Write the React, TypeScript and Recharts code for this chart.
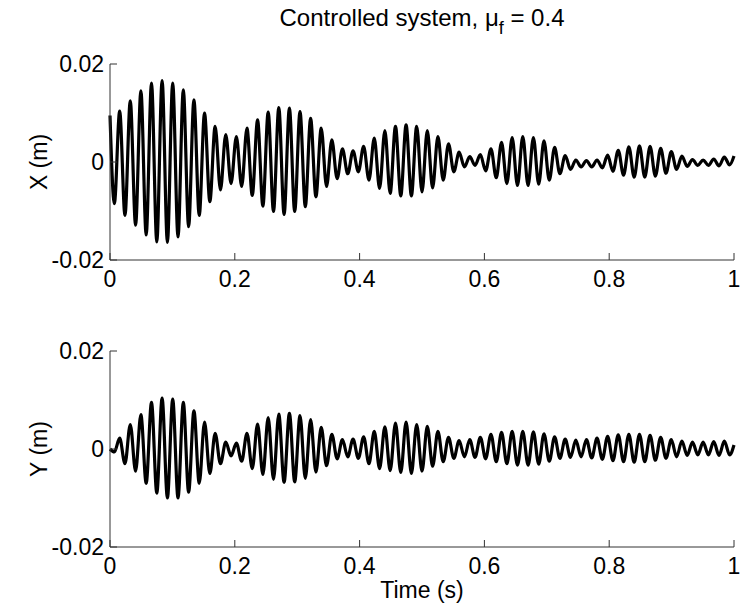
import { LineChart, Line, XAxis, YAxis } from "recharts";

// time of each turning point (s)
const times = [
  0, 0.007, 0.0155, 0.024, 0.0325, 0.041, 0.0495, 0.058, 0.0665, 0.075,
  0.0835, 0.092, 0.1005, 0.109, 0.1175, 0.126, 0.1345, 0.143, 0.1515, 0.16,
  0.1685, 0.177, 0.1855, 0.194, 0.2025, 0.211, 0.2195, 0.228, 0.2365, 0.245,
  0.2535, 0.262, 0.2705, 0.279, 0.2875, 0.296, 0.3045, 0.313, 0.3215, 0.33,
  0.3385, 0.347, 0.3555, 0.364, 0.3725, 0.381, 0.3895, 0.398, 0.4065, 0.415,
  0.4235, 0.432, 0.4405, 0.449, 0.4575, 0.466, 0.4745, 0.483, 0.4915, 0.5,
  0.5085, 0.517, 0.5255, 0.534, 0.5425, 0.551, 0.5595, 0.568, 0.5765, 0.585,
  0.5935, 0.602, 0.6105, 0.619, 0.6275, 0.636, 0.6445, 0.653, 0.6615, 0.67,
  0.6785, 0.687, 0.6955, 0.704, 0.7125, 0.721, 0.7295, 0.738, 0.7465, 0.755,
  0.7635, 0.772, 0.7805, 0.789, 0.7975, 0.806, 0.8145, 0.823, 0.8315, 0.84,
  0.8485, 0.857, 0.8655, 0.874, 0.8825, 0.891, 0.8995, 0.908, 0.9165, 0.925,
  0.9335, 0.942, 0.9505, 0.959, 0.9675, 0.976, 0.9845, 0.993, 1.0,
];

// X displacement (m)
const xDisp = [
  0.0095, -0.0085, 0.0104, -0.0109, 0.0125, -0.0129, 0.0145, -0.0149, 0.0161, -0.0163,
  0.0166, -0.0164, 0.0161, -0.0153, 0.0147, -0.0132, 0.0127, -0.0109, 0.01, -0.0081,
  0.0073, -0.0057, 0.0056, -0.0044, 0.0052, -0.005, 0.0069, -0.0068, 0.0086, -0.009,
  0.0102, -0.0101, 0.0111, -0.0107, 0.011, -0.0101, 0.0103, -0.0091, 0.0089, -0.0071,
  0.0069, -0.005, 0.0045, -0.0034, 0.0027, -0.0024, 0.0023, -0.002, 0.0032, -0.0037,
  0.0049, -0.0054, 0.0064, -0.0064, 0.0073, -0.0069, 0.0076, -0.0069, 0.0073, -0.0061,
  0.0064, -0.0053, 0.0052, -0.0037, 0.0037, -0.002, 0.002, -0.001, 0.0011, -0.0007,
  0.0015, -0.0018, 0.0027, -0.0032, 0.004, -0.0044, 0.005, -0.0048, 0.0052, -0.0048,
  0.005, -0.0045, 0.0043, -0.0037, 0.003, -0.0024, 0.0013, -0.0015, 0.0004, -0.001,
  0.0003, -0.001, 0.0004, -0.0012, 0.0014, -0.0019, 0.0024, -0.0027, 0.0031, -0.0031,
  0.0033, -0.0031, 0.0032, -0.0029, 0.0028, -0.0023, 0.0021, -0.0015, 0.0012, -0.0009,
  0.0005, -0.0007, 0.0004, -0.0007, 0.0006, -0.0008, 0.001, -0.0006, 0.0012,
];

// Y displacement (m)
const yDisp = [
  0, -0.0006, 0.0022, -0.003, 0.005, -0.0045, 0.007, -0.007, 0.0095, -0.009,
  0.0104, -0.01, 0.0102, -0.01, 0.0095, -0.0088, 0.0078, -0.007, 0.0055, -0.005,
  0.0032, -0.003, 0.0014, -0.0014, 0.0012, -0.0025, 0.0032, -0.004, 0.0051, -0.0052,
  0.0064, -0.0062, 0.0071, -0.0068, 0.0073, -0.0067, 0.0068, -0.006, 0.006, -0.0047,
  0.0044, -0.0034, 0.003, -0.002, 0.0019, -0.0016, 0.002, -0.0019, 0.0025, -0.003,
  0.0036, -0.004, 0.0045, -0.0044, 0.0053, -0.0048, 0.0055, -0.005, 0.005, -0.0045,
  0.0046, -0.0035, 0.0036, -0.0026, 0.0024, -0.0019, 0.0017, -0.0016, 0.0019, -0.0017,
  0.0024, -0.002, 0.003, -0.0026, 0.0034, -0.003, 0.0036, -0.0033, 0.0036, -0.0033,
  0.0035, -0.0031, 0.0031, -0.0025, 0.0025, -0.0019, 0.002, -0.0017, 0.0018, -0.0016,
  0.0019, -0.0018, 0.0022, -0.0021, 0.0026, -0.0024, 0.0029, -0.0026, 0.003, -0.0027,
  0.003, -0.0026, 0.0028, -0.0023, 0.0024, -0.0019, 0.0019, -0.0016, 0.0016, -0.0013,
  0.0014, -0.0012, 0.0014, -0.0012, 0.0015, -0.0013, 0.0016, -0.0012, 0.0008,
];

const timeTicks = [0, 0.2, 0.4, 0.6, 0.8, 1];
const dispTicks = [-0.02, 0, 0.02];

const data = times.map((t, i) => ({ t, x: xDisp[i], y: yDisp[i] }));

const FONT = '"Liberation Sans", Arial, Helvetica, sans-serif';
const AXIS = "#333";
const tickStyle = { fill: "#000", fontSize: 23, fontFamily: FONT };
const noLabel = () => <g />;

function Panel({ dataKey, label, top }: { dataKey: string; label: string; top: number }) {
  return (
    <div style={{ position: "absolute", left: 0, top }}>
      <LineChart width={740} height={300} data={data} margin={{ top: 64, right: 6, bottom: 0, left: 0 }}>
        <XAxis
          dataKey="t"
          type="number"
          domain={[0, 1]}
          ticks={timeTicks}
          height={40}
          tickSize={-7}
          tickMargin={18}
          stroke={AXIS}
          tick={tickStyle}
          tickFormatter={(v: number) => String(v)}
        />
        <XAxis xAxisId="top" orientation="top" type="number" domain={[0, 1]} ticks={timeTicks} height={0} tickSize={-7} stroke={AXIS} tick={noLabel} />
        <YAxis
          type="number"
          domain={[-0.02, 0.02]}
          ticks={dispTicks}
          width={110}
          tickSize={-7}
          tickMargin={13}
          stroke={AXIS}
          tick={tickStyle}
          tickFormatter={(v: number) => String(v)}
        />
        <YAxis yAxisId="right" orientation="right" type="number" domain={[-0.02, 0.02]} ticks={dispTicks} width={0} tickSize={-7} stroke={AXIS} tick={noLabel} />
        <Line type="monotone" dataKey={dataKey} stroke="#000" strokeWidth={3.2} dot={false} isAnimationActive={false} />
      </LineChart>
      <div
        style={{
          position: "absolute",
          left: 39,
          top: 162,
          transform: "translate(-50%, -50%) rotate(-90deg)",
          whiteSpace: "nowrap",
          fontFamily: FONT,
          fontSize: 23,
        }}
      >
        {label}
      </div>
    </div>
  );
}

export default function App() {
  return (
    <div style={{ position: "absolute", left: 0, top: 0, width: 740, height: 612, background: "#fff" }}>
      <div
        style={{
          position: "absolute",
          left: 110,
          top: 4,
          width: 624,
          textAlign: "center",
          fontFamily: FONT,
          fontSize: 24,
          lineHeight: "28px",
          whiteSpace: "nowrap",
        }}
      >
        Controlled system, μ<sub style={{ fontSize: 18, verticalAlign: "-8px" }}>f</sub> = 0.4
      </div>
      <Panel dataKey="x" label="X (m)" top={0} />
      <Panel dataKey="y" label="Y (m)" top={287} />
      <div
        style={{
          position: "absolute",
          left: 422,
          top: 590,
          transform: "translate(-50%, -50%)",
          whiteSpace: "nowrap",
          fontFamily: FONT,
          fontSize: 23,
        }}
      >
        Time (s)
      </div>
    </div>
  );
}
